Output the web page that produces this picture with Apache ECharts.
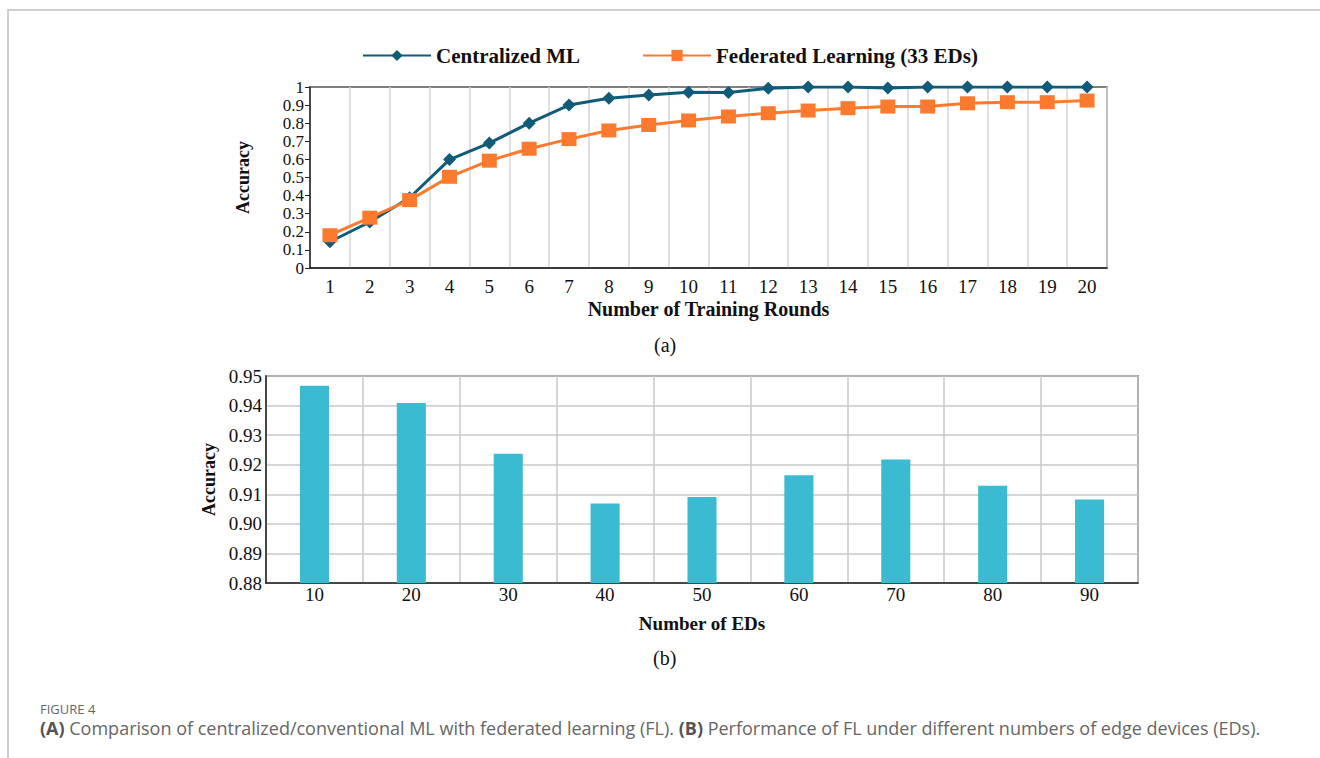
<!DOCTYPE html>
<html>
<head>
<meta charset="utf-8">
<script src="https://cdn.jsdelivr.net/npm/echarts@6/dist/echarts.min.js"></script>
<style>
html,body{margin:0;padding:0;background:#fff;}
#c{width:1320px;height:758px;}
</style>
</head>
<body>
<div id="c"></div>
<script>
// ---- Data ----
const rounds = ['1','2','3','4','5','6','7','8','9','10','11','12','13','14','15','16','17','18','19','20'];
const centralizedML = [0.145,0.254,0.388,0.599,0.69,0.80,0.90,0.938,0.956,0.971,0.97,0.993,1.0,1.0,0.994,1.0,1.0,1.0,1.0,1.0];
const federatedFL = [0.181,0.278,0.375,0.504,0.593,0.659,0.712,0.76,0.79,0.815,0.837,0.855,0.87,0.883,0.892,0.892,0.91,0.916,0.916,0.925];
const edCounts = ['10','20','30','40','50','60','70','80','90'];
const edAccuracy = [0.9467,0.9409,0.9237,0.9069,0.9091,0.9164,0.9218,0.9129,0.9082];

const serif = '"Liberation Serif","Times New Roman",serif';
const sans = '"Open Sans","Noto Sans",sans-serif';

const chart = echarts.init(document.getElementById('c'), null, {renderer: 'svg'});
chart.setOption({
  backgroundColor: '#fff',
  animation: false,
  legend: {
    left: 357, top: 40,
    itemWidth: 68, itemHeight: 14, itemGap: 62,
    textStyle: {fontFamily: serif, fontWeight: 'bold', fontSize: 21, color: '#111'},
    data: ['Centralized ML', 'Federated Learning (33 EDs)']
  },
  grid: [
    {left: 310, right: 213, top: 87, height: 181, show: true, borderColor: '#555', borderWidth: 1.5, containLabel: false},
    {left: 266, right: 182, top: 376, height: 207, show: true, borderColor: '#444', borderWidth: 1.5, containLabel: false}
  ],
  xAxis: [
    {
      type: 'category', gridIndex: 0, data: rounds, boundaryGap: true,
      axisLine: {lineStyle: {color: '#222', width: 1.5}},
      axisTick: {show: false},
      axisLabel: {fontFamily: serif, fontSize: 19, color: '#111', margin: 9},
      splitLine: {show: true, lineStyle: {color: '#d6d6d6', width: 1.5}},
      name: 'Number of Training Rounds', nameLocation: 'middle', nameGap: 31,
      nameTextStyle: {fontFamily: serif, fontWeight: 'bold', fontSize: 20, color: '#111', lineHeight: 20}
    },
    {
      type: 'category', gridIndex: 1, data: edCounts, boundaryGap: true,
      axisLine: {lineStyle: {color: '#222', width: 1.5}},
      axisTick: {show: false},
      axisLabel: {fontFamily: serif, fontSize: 19, color: '#111', margin: 2},
      splitLine: {show: true, lineStyle: {color: '#c8c8c8', width: 1.5}},
      name: 'Number of EDs', nameLocation: 'middle', nameGap: 31,
      nameTextStyle: {fontFamily: serif, fontWeight: 'bold', fontSize: 19, color: '#111', lineHeight: 19}
    }
  ],
  yAxis: [
    {
      type: 'value', gridIndex: 0, min: 0, max: 1, interval: 0.1,
      axisLine: {show: true, lineStyle: {color: '#222', width: 1.5}},
      axisTick: {show: true, length: 5, lineStyle: {color: '#222'}},
      axisLabel: {fontFamily: serif, fontSize: 17, lineHeight: 16, color: '#111', margin: 6,
        showMinLabel: true, showMaxLabel: true, hideOverlap: false,
        formatter: v => (v === 0 ? '0' : (Math.abs(v - 1) < 1e-9 ? '1' : v.toFixed(1)))},
      splitLine: {show: false},
      name: 'Accuracy', nameLocation: 'middle', nameGap: 58,
      nameTextStyle: {fontFamily: serif, fontWeight: 'bold', fontSize: 18, color: '#111'}
    },
    {
      type: 'value', gridIndex: 1, min: 0.88, max: 0.95, interval: 0.01,
      axisLine: {show: true, lineStyle: {color: '#222', width: 1.5}},
      axisTick: {show: false},
      axisLabel: {fontFamily: serif, fontSize: 19, color: '#111', margin: 4,
        showMinLabel: true, showMaxLabel: true,
        formatter: v => v.toFixed(2)},
      splitLine: {show: true, lineStyle: {color: '#c8c8c8', width: 1.5}},
      name: 'Accuracy', nameLocation: 'middle', nameGap: 46,
      nameTextStyle: {fontFamily: serif, fontWeight: 'bold', fontSize: 18, color: '#111'}
    }
  ],
  series: [
    {
      name: 'Centralized ML', type: 'line', xAxisIndex: 0, yAxisIndex: 0,
      data: centralizedML, symbol: 'diamond', symbolSize: [13, 13],
      itemStyle: {color: '#0f5b78'}, lineStyle: {color: '#0f5b78', width: 3}, z: 3
    },
    {
      name: 'Federated Learning (33 EDs)', type: 'line', xAxisIndex: 0, yAxisIndex: 0,
      data: federatedFL, symbol: 'rect', symbolSize: [15, 14],
      itemStyle: {color: '#fb7a2e'}, lineStyle: {color: '#fb7a2e', width: 3}, z: 4
    },
    {
      name: 'Accuracy by EDs', type: 'bar', xAxisIndex: 1, yAxisIndex: 1,
      data: edAccuracy, barWidth: '30%',
      itemStyle: {color: '#3bbbd2'}
    }
  ],
  graphic: [
    {type: 'line', shape: {x1: 7, y1: 10, x2: 1320, y2: 10}, style: {stroke: '#cfcfcf', lineWidth: 2}},
    {type: 'line', shape: {x1: 8, y1: 10, x2: 8, y2: 758}, style: {stroke: '#cfcfcf', lineWidth: 2}},
    {type: 'text', left: 654, top: 335, style: {text: '(a)', font: '20px ' + serif, fill: '#111'}},
    {type: 'text', left: 653, top: 648, style: {text: '(b)', font: '20px ' + serif, fill: '#111'}},
    {type: 'text', left: 40, top: 701, style: {text: 'FIGURE 4', fontFamily: sans, fontSize: 13, lineHeight: 15, fill: '#666'}},
    {type: 'text', left: 40, top: 719, style: {
      rich: {
        b: {fontFamily: sans, fontSize: 18, lineHeight: 19, fontWeight: 'bold', fill: '#555'},
        n: {fontFamily: sans, fontSize: 18, lineHeight: 19, fill: '#666'}
      },
      text: '{b|(A)}{n| Comparison of centralized/conventional ML with federated learning (FL). }{b|(B)}{n| Performance of FL under different numbers of edge devices (EDs).}'
    }}
  ]
});
</script>
</body>
</html>
